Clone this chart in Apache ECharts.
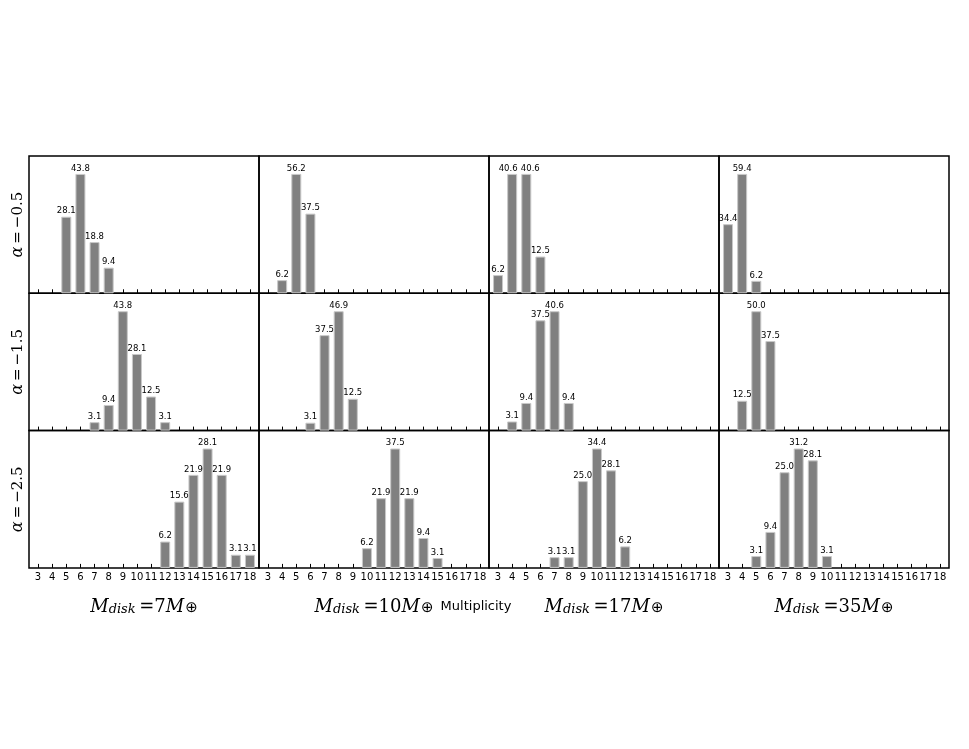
<!DOCTYPE html>
<html>
<head>
<meta charset="utf-8">
<script src="https://cdn.jsdelivr.net/npm/echarts@6/dist/echarts.min.js"></script>
<style>
  html, body { margin: 0; padding: 0; background: #fff; }
  #main { width: 969px; height: 749px; }
</style>
</head>
<body>
<div id="main"></div>
<script>
// multiplicity 3..18
var multiplicity = [3, 4, 5, 6, 7, 8, 9, 10, 11, 12, 13, 14, 15, 16, 17, 18];
var alphaLabels = ['\u22120.5', '\u22121.5', '\u22122.5'];
var diskLabels = ['7', '10', '17', '35'];

// percent per multiplicity, 0 = no bar
// alpha = -0.5
var a05_m7  = [0, 0, 28.1, 43.8, 18.8, 9.4, 0, 0, 0, 0, 0, 0, 0, 0, 0, 0];
var a05_m10 = [0, 6.2, 56.2, 37.5, 0, 0, 0, 0, 0, 0, 0, 0, 0, 0, 0, 0];
var a05_m17 = [6.2, 40.6, 40.6, 12.5, 0, 0, 0, 0, 0, 0, 0, 0, 0, 0, 0, 0];
var a05_m35 = [34.4, 59.4, 6.2, 0, 0, 0, 0, 0, 0, 0, 0, 0, 0, 0, 0, 0];
// alpha = -1.5
var a15_m7  = [0, 0, 0, 0, 3.1, 9.4, 43.8, 28.1, 12.5, 3.1, 0, 0, 0, 0, 0, 0];
var a15_m10 = [0, 0, 0, 3.1, 37.5, 46.9, 12.5, 0, 0, 0, 0, 0, 0, 0, 0, 0];
var a15_m17 = [0, 3.1, 9.4, 37.5, 40.6, 9.4, 0, 0, 0, 0, 0, 0, 0, 0, 0, 0];
var a15_m35 = [0, 12.5, 50.0, 37.5, 0, 0, 0, 0, 0, 0, 0, 0, 0, 0, 0, 0];
// alpha = -2.5
var a25_m7  = [0, 0, 0, 0, 0, 0, 0, 0, 0, 6.2, 15.6, 21.9, 28.1, 21.9, 3.1, 3.1];
var a25_m10 = [0, 0, 0, 0, 0, 0, 0, 6.2, 21.9, 37.5, 21.9, 9.4, 3.1, 0, 0, 0];
var a25_m17 = [0, 0, 0, 0, 3.1, 3.1, 25.0, 34.4, 28.1, 6.2, 0, 0, 0, 0, 0, 0];
var a25_m35 = [0, 0, 3.1, 9.4, 25.0, 31.2, 28.1, 3.1, 0, 0, 0, 0, 0, 0, 0, 0];

var panels = [
  [a05_m7, a05_m10, a05_m17, a05_m35],
  [a15_m7, a15_m10, a15_m17, a15_m35],
  [a25_m7, a25_m10, a25_m17, a25_m35]
];

var chart = echarts.init(document.getElementById('main'));

var left0 = 29, top0 = 156, cellW = 230, cellH = 137.3;
var grids = [], xAxes = [], yAxes = [], series = [], graphics = [];

for (var r = 0; r < 3; r++) {
  for (var c = 0; c < 4; c++) {
    var idx = r * 4 + c;
    var vals = panels[r][c];
    grids.push({
      left: left0 + c * cellW,
      top: top0 + r * cellH,
      width: cellW,
      height: cellH,
      show: true,
      borderColor: '#000',
      borderWidth: 1.5,
      backgroundColor: 'transparent'
    });
    xAxes.push({
      type: 'value',
      gridIndex: idx,
      min: 2.36,
      max: 18.64,
      splitLine: { show: false },
      axisLine: { show: false },
      axisTick: {
        show: true,
        inside: true,
        length: 4,
        customValues: multiplicity,
        lineStyle: { color: '#000', width: 1 }
      },
      axisLabel: {
        show: r === 2,
        customValues: multiplicity,
        color: '#000',
        fontFamily: 'DejaVu Sans',
        fontSize: 10,
        margin: 5
      }
    });
    yAxes.push({
      type: 'value',
      gridIndex: idx,
      min: 0,
      max: Math.max.apply(null, vals) * 1.15,
      show: false,
      splitLine: { show: false }
    });
    var data = [];
    for (var i = 0; i < multiplicity.length; i++) {
      if (vals[i] > 0) {
        // equal wide neighbours: push the two labels apart a little
        var dx = 0;
        if (vals[i] >= 10) {
          if (vals[i + 1] === vals[i]) dx = -4;
          else if (i > 0 && vals[i - 1] === vals[i]) dx = 4;
        }
        data.push({ value: [multiplicity[i], vals[i]], label: { offset: [dx, 0] } });
      }
    }
    series.push({
      type: 'bar',
      xAxisIndex: idx,
      yAxisIndex: idx,
      barWidth: 10,
      data: data,
      itemStyle: { color: '#808080', borderColor: '#c8c8c8', borderWidth: 1 },
      label: {
        show: true,
        position: 'top',
        distance: 1,
        color: '#000',
        fontFamily: 'DejaVu Sans',
        fontSize: 8.5,
        formatter: function (p) { return p.value[1].toFixed(1); }
      },
      silent: true,
      animation: false
    });
  }
}

// row labels: alpha = ...
for (var r2 = 0; r2 < 3; r2++) {
  graphics.push({
    type: 'text',
    x: 18,
    y: top0 + r2 * cellH + cellH / 2,
    rotation: Math.PI / 2,
    style: {
      text: '{a|\u03b1}{n|\u2009=\u2009' + alphaLabels[r2] + '}',
      align: 'center',
      verticalAlign: 'middle',
      rich: {
        a: { fontFamily: 'DejaVu Serif', fontStyle: 'italic', fontSize: 16, fill: '#000' },
        n: { fontFamily: 'DejaVu Serif', fontSize: 15, fill: '#000' }
      }
    }
  });
}

// column labels: M_disk = xM_earth
for (var c2 = 0; c2 < 4; c2++) {
  graphics.push({
    type: 'text',
    x: left0 + c2 * cellW + cellW / 2,
    y: 604,
    style: {
      text: '{m|M}{s|disk}{n|\u2009=' + diskLabels[c2] + '}{m|M}{o|\u2295}',
      align: 'center',
      verticalAlign: 'middle',
      rich: {
        m: { fontFamily: 'DejaVu Serif', fontStyle: 'italic', fontSize: 18, fill: '#000', lineHeight: 24, verticalAlign: 'bottom' },
        n: { fontFamily: 'DejaVu Serif', fontSize: 18, fill: '#000', lineHeight: 24, verticalAlign: 'bottom' },
        s: { fontFamily: 'DejaVu Serif', fontStyle: 'italic', fontSize: 13, fill: '#000', lineHeight: 14, verticalAlign: 'bottom', padding: [8, 0, 0, 0] },
        o: { fontFamily: 'DejaVu Sans', fontSize: 15, fill: '#000', lineHeight: 14, verticalAlign: 'bottom', padding: [10, 0, 0, 1] }
      }
    }
  });
}

graphics.push({
  type: 'text',
  x: 476,
  y: 607,
  style: {
    text: 'Multiplicity',
    align: 'center',
    verticalAlign: 'middle',
    fontFamily: 'DejaVu Sans',
    fontSize: 13,
    fill: '#000'
  }
});

chart.setOption({
  animation: false,
  backgroundColor: '#fff',
  grid: grids,
  xAxis: xAxes,
  yAxis: yAxes,
  series: series,
  graphic: graphics
});
</script>
</body>
</html>
